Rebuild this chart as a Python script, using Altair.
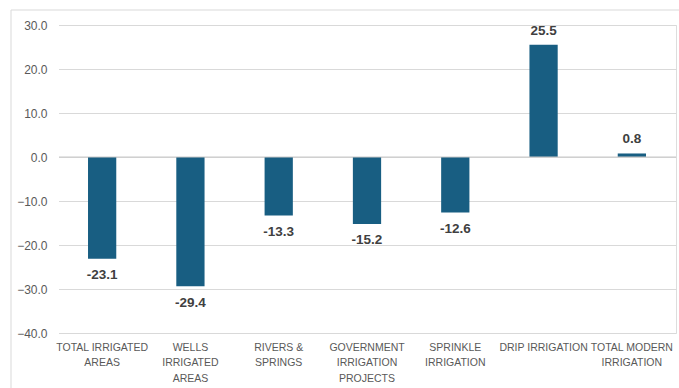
import altair as alt
import pandas as pd

categories = [
    "TOTAL IRRIGATED|AREAS",
    "WELLS|IRRIGATED|AREAS",
    "RIVERS &|SPRINGS",
    "GOVERNMENT|IRRIGATION|PROJECTS",
    "SPRINKLE|IRRIGATION",
    "DRIP IRRIGATION",
    "TOTAL MODERN|IRRIGATION",
]
values = [-23.1, -29.4, -13.3, -15.2, -12.6, 25.5, 0.8]
y_ticks = [-40, -30, -20, -10, 0, 10, 20, 30]

df = pd.DataFrame({"cat": categories, "val": values})
df["lab"] = df["val"].map(lambda v: f"{v:.1f}")

W, H = 618, 308
FONT = "Liberation Sans"

x_axis = alt.Axis(labelExpr="split(datum.label, '|')", labelAngle=0,
                  labelFontSize=10.5, labelColor="#595959", labelFont=FONT,
                  domain=False, ticks=False, labelPadding=9,
                  labelLineHeight=15.5, labelLimit=0, grid=False)
y_axis = alt.Axis(values=y_ticks, format=".1f",
                  labelFontSize=12, labelColor="#595959", labelFont=FONT,
                  domain=False, ticks=False, gridColor="#d9d9d9",
                  labelPadding=11)
x_scale = alt.Scale(paddingInner=0.68, paddingOuter=0.34)
y_scale = alt.Scale(domain=[-40, 30], nice=False)

def X():
    return alt.X("cat:N", sort=categories, title=None, scale=x_scale, axis=x_axis)

def Y(field):
    return alt.Y(field, scale=y_scale, title=None, axis=y_axis)

frame = alt.Chart(pd.DataFrame({"a": [0]})).mark_rect(
    fill=None, stroke="#d9d9d9", strokeWidth=1
).encode(x=alt.value(-47), x2=alt.value(W + 80), y=alt.value(-15), y2=alt.value(H + 120))

cover = alt.Chart(pd.DataFrame({"a": [0]})).mark_rule(
    color="white", strokeWidth=2
).encode(x=alt.value(0), y=alt.value(-1), y2=alt.value(H + 1))

bars = alt.Chart(df).mark_bar(color="#185E82").encode(
    x=X(), y=Y("val:Q"), y2=alt.datum(0),
)

zero = alt.Chart(pd.DataFrame({"z": [0]})).mark_rule(color="#c8c8c8", strokeWidth=1).encode(
    y=Y("z:Q")
)

pos = alt.Chart(df).transform_filter("datum.val >= 0").mark_text(
    fontWeight="bold", fontSize=13.5, color="#404040", font=FONT, dy=-14, baseline="middle"
).encode(x=X(), y=Y("val:Q"), text="lab:N")

neg = alt.Chart(df).transform_filter("datum.val < 0").mark_text(
    fontWeight="bold", fontSize=13.5, color="#404040", font=FONT, dy=16.5, baseline="middle"
).encode(x=X(), y=Y("val:Q"), text="lab:N")

chart = alt.layer(bars, zero, pos, neg, frame, cover).properties(
    width=W, height=H,
    autosize=alt.AutoSizeParams(type="none"),
    padding={"left": 58, "top": 25, "right": 3, "bottom": 55},
).configure_view(strokeWidth=0, stroke="transparent").configure_axis(
    domain=False, ticks=False
).configure(background="white")

chart.save("out.html", embed_options={"renderer": "svg", "actions": False})
